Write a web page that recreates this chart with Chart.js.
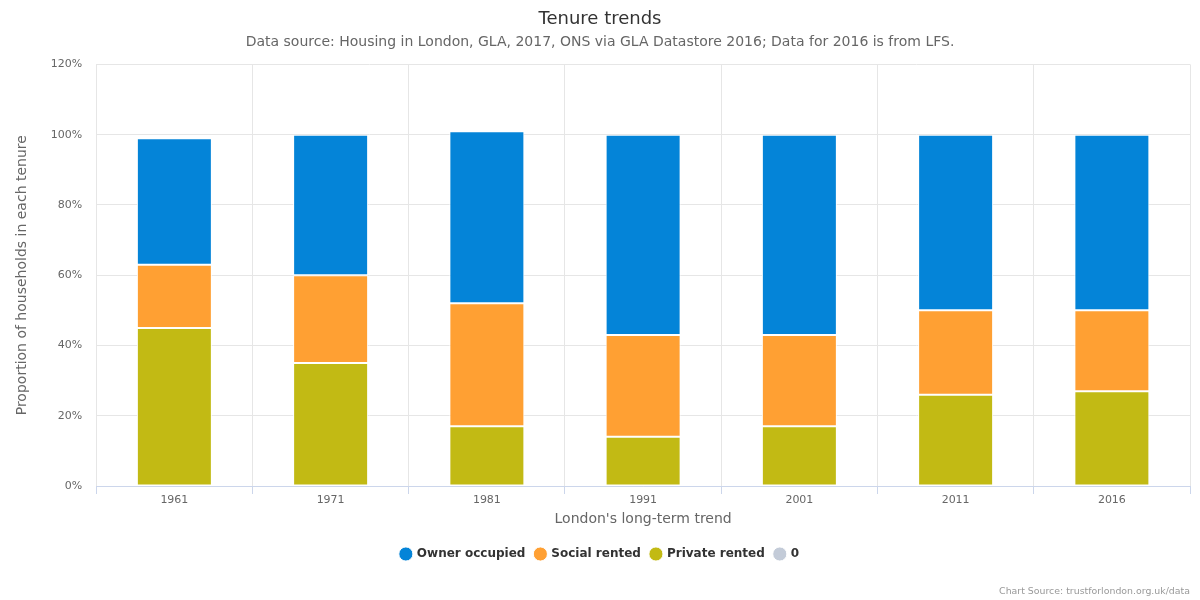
<!DOCTYPE html>
<html>
<head>
<meta charset="utf-8">
<script src="https://cdn.jsdelivr.net/npm/chart.js@4.4.1/dist/chart.umd.min.js"></script>
<style>
  html, body { margin: 0; padding: 0; background: #fff; }
  #wrap { position: relative; width: 1200px; height: 600px; }
  #credits {
    position: absolute; right: 10px; bottom: 4px;
    font: 9.4px "DejaVu Sans", sans-serif; color: #999;
  }
</style>
</head>
<body>
<div id="wrap">
  <canvas id="chart"></canvas>
  <div id="credits">Chart Source: trustforlondon.org.uk/data</div>
</div>
<script>
// Data (percent of households)
const years = ["1961", "1971", "1981", "1991", "2001", "2011", "2016"];
const ownerOccupied = [36, 40, 49, 57, 57, 50, 50];
const socialRented = [18, 25, 35, 29, 26, 24, 23];
const privateRented = [45, 35, 17, 14, 17, 26, 27];
const zeroSeries = [];
const yTicks = [0, 20, 40, 60, 80, 100, 120];

Chart.defaults.font.family = "DejaVu Sans";

const ctx = document.getElementById("chart");

// order: lower numbers stack first (bottom)
new Chart(ctx, {
  type: "bar",
  data: {
    labels: years,
    datasets: [
      { label: "Owner occupied", data: ownerOccupied, backgroundColor: "#0484d8", order: 3 },
      { label: "Social rented", data: socialRented, backgroundColor: "#ffa033", order: 2 },
      { label: "Private rented", data: privateRented, backgroundColor: "#c2ba14", order: 1 },
      { label: "0", data: zeroSeries, backgroundColor: "#c3cbd8", order: 4 }
    ].map(d => ({
      ...d,
      borderColor: "#ffffff",
      borderWidth: 1,
      borderSkipped: false,
      categoryPercentage: 1,
      barPercentage: 0.48
    }))
  },
  options: {
    responsive: true,
    maintainAspectRatio: false,
    animation: false,
    layout: { padding: { left: 10, right: 10, top: 9, bottom: 30 } },
    plugins: {
      title: {
        display: true,
        text: "Tenure trends",
        color: "#333333",
        font: { size: 18, weight: "normal" },
        padding: { top: 0, bottom: 3 }
      },
      subtitle: {
        display: true,
        text: "Data source: Housing in London, GLA, 2017, ONS via GLA Datastore 2016; Data for 2016 is from LFS.",
        color: "#666666",
        font: { size: 14 },
        padding: { bottom: 14 }
      },
      legend: {
        position: "bottom",
        labels: {
          usePointStyle: true,
          pointStyle: "circle",
          boxWidth: 10,
          boxHeight: 10,
          color: "#333333",
          font: { size: 12, weight: "bold" },
          padding: 10,
          sort: (a, b) => a.datasetIndex - b.datasetIndex
        }
      },
      tooltip: { enabled: false }
    },
    scales: {
      x: {
        stacked: true,
        grid: {
          offset: true,
          color: "#e6e6e6",
          drawTicks: true,
          tickColor: "#ccd6eb",
          tickLength: 8
        },
        border: { color: "#ccd6eb" },
        ticks: { color: "#666666", font: { size: 11 }, padding: 0 },
        title: {
          display: true,
          text: "London's long-term trend",
          color: "#666666",
          font: { size: 14 },
          padding: { top: 4, bottom: 10 }
        }
      },
      y: {
        stacked: true,
        min: 0,
        max: 120,
        afterBuildTicks: axis => { axis.ticks = yTicks.map(v => ({ value: v })); },
        grid: { color: "#e6e6e6", drawTicks: false },
        border: { display: false },
        ticks: {
          color: "#666666",
          font: { size: 11 },
          padding: 14,
          callback: v => v + "%"
        },
        title: {
          display: true,
          text: "Proportion of households in each tenure",
          color: "#666666",
          font: { size: 14 },
          padding: { bottom: 6 }
        }
      }
    }
  }
});
</script>
</body>
</html>
